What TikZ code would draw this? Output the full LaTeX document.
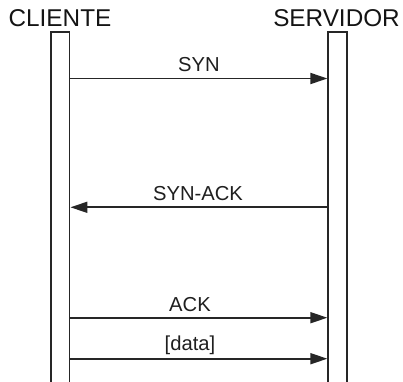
\documentclass[tikz,border=0pt]{standalone}
\usepackage{fontspec}
\setmainfont{Liberation Sans}
\usetikzlibrary{arrows.meta}
\begin{document}
\begin{tikzpicture}[x=1pt,y=-1pt,
  actor/.style={anchor=base,inner sep=0pt,font=\fontsize{24.3}{28}\selectfont,text=black!92},
  lifeline/.style={draw=black!85,line width=1.8pt,anchor=north,minimum width=18.5pt,minimum height=360pt,inner sep=0pt},
  msglabel/.style={anchor=base,inner sep=0pt,font=\fontsize{20.2}{24}\selectfont,text=black!88},
  msg/.style={draw=black!85,line width=1.8pt,-{Triangle[length=17pt,width=11pt]}}]
\useasboundingbox (0,0) rectangle (403,381);
% participants
\node[actor] (tcli) at (60,26.7) {CLIENTE};
\node[actor] (tsrv) at (336.5,26.7) {SERVIDOR};
\node[lifeline] (cli) at (60.3,31) {};
\node[lifeline] (srv) at (337.5,31) {};
% message rows
\coordinate (ySyn) at (0,78.5);
\coordinate (ySynAck) at (0,207.3);
\coordinate (yAck) at (0,317.7);
\coordinate (yData) at (0,358.7);
\draw[msg] (cli.east |- ySyn) -- (srv.west |- ySyn);
\draw[msg] (srv.west |- ySynAck) -- (cli.east |- ySynAck);
\draw[msg] (cli.east |- yAck) -- (srv.west |- yAck);
\draw[msg] (cli.east |- yData) -- (srv.west |- yData);
% message labels
\node[msglabel] (lSyn) at (199,71.5) {SYN};
\node[msglabel] (lSynAck) at (198,200.7) {SYN-ACK};
\node[msglabel] (lAck) at (190,311.8) {ACK};
\node[msglabel] (lData) at (190,350.5) {[data]};
\end{tikzpicture}
\end{document}
